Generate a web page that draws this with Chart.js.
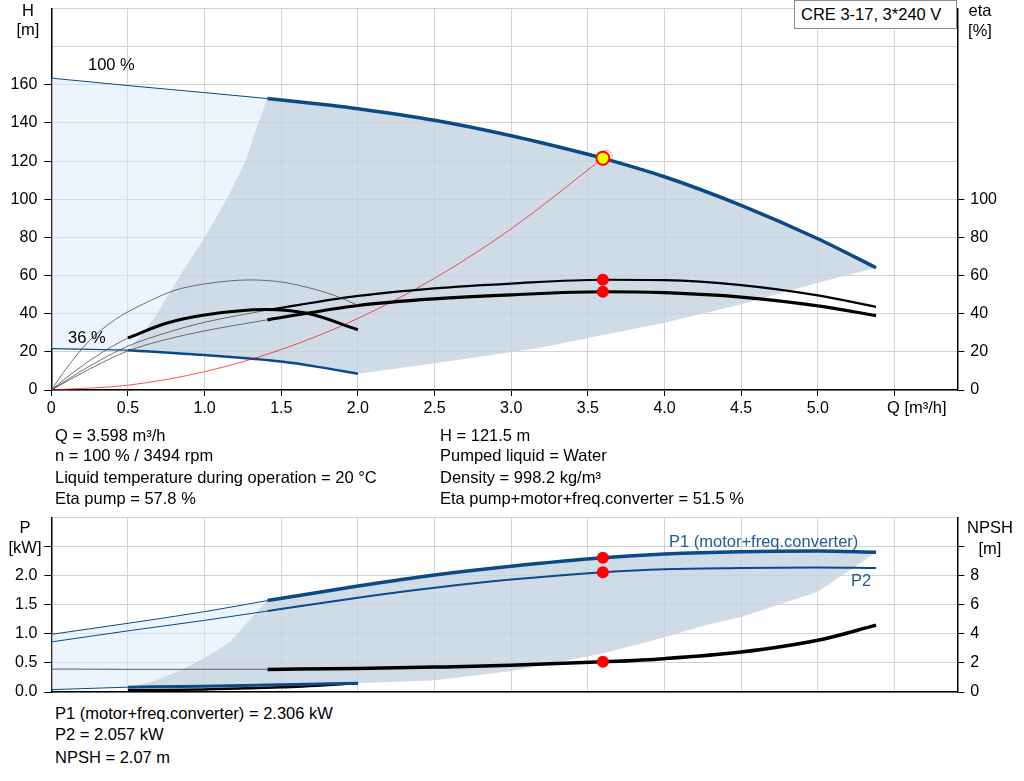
<!DOCTYPE html>
<html>
<head>
<meta charset="utf-8">
<title>CRE 3-17 pump curve</title>
<script src="https://cdn.jsdelivr.net/npm/chart.js@4.4.1/dist/chart.umd.min.js"></script>
<style>
  html, body { margin: 0; padding: 0; background: #fff; }
  body { position: relative; width: 1024px; height: 781px; overflow: hidden;
         font-family: 'Liberation Sans', Arial, sans-serif; font-size: 16.5px; color: #000; }
  canvas { position: absolute; left: 0; }
  #topChart { top: 0; }
  #botChart { top: 500px; }
  .t { position: absolute; white-space: nowrap; line-height: 18px; }
  .c { width: 60px; text-align: center; }
  .blue { color: #1d5c98; }
  #legendBox { position: absolute; left: 794px; top: 0; width: 163px; height: 29px; box-sizing: border-box;
               border: 1px solid #8c8c8c; background: #fff; padding-left: 6px; line-height: 27px; }
</style>
</head>
<body>
<canvas id="topChart" width="1024" height="430"></canvas>
<canvas id="botChart" width="1024" height="200"></canvas>

<div id="legendBox">CRE 3-17, 3*240 V</div>

<div class="t c" style="left:-2px;top:1px">H</div>
<div class="t c" style="left:-2px;top:20px">[m]</div>
<div class="t c" style="left:950px;top:1px">eta</div>
<div class="t c" style="left:950px;top:21px">[%]</div>
<div class="t" style="left:887px;top:398px">Q [m³/h]</div>
<div class="t" style="left:88px;top:55px">100 %</div>
<div class="t" style="left:68px;top:328px">36 %</div>

<div class="t" style="left:55px;top:426px">Q = 3.598 m³/h</div>
<div class="t" style="left:55px;top:446px">n = 100 % / 3494 rpm</div>
<div class="t" style="left:55px;top:467.5px">Liquid temperature during operation = 20 °C</div>
<div class="t" style="left:55px;top:489px">Eta pump = 57.8 %</div>
<div class="t" style="left:440px;top:426px">H = 121.5 m</div>
<div class="t" style="left:440px;top:446px">Pumped liquid = Water</div>
<div class="t" style="left:440px;top:467.5px">Density = 998.2 kg/m³</div>
<div class="t" style="left:440px;top:489px">Eta pump+motor+freq.converter = 51.5 %</div>

<div class="t c" style="left:-5px;top:518px">P</div>
<div class="t c" style="left:-5px;top:538px">[kW]</div>
<div class="t c" style="left:960px;top:518px">NPSH</div>
<div class="t c" style="left:960px;top:539px">[m]</div>
<div class="t blue" style="left:669px;top:532px">P1 (motor+freq.converter)</div>
<div class="t blue" style="left:851px;top:571px">P2</div>

<div class="t" style="left:55px;top:703.5px">P1 (motor+freq.converter) = 2.306 kW</div>
<div class="t" style="left:55px;top:725px">P2 = 2.057 kW</div>
<div class="t" style="left:55px;top:747.5px">NPSH = 2.07 m</div>

<script>
// ---- axes ----
const qMax = 5.91;
const qTicks = [0, 0.5, 1, 1.5, 2, 2.5, 3, 3.5, 4, 4.5, 5, 5.5];
const qTickLabels = ['0', '0.5', '1.0', '1.5', '2.0', '2.5', '3.0', '3.5', '4.0', '4.5', '5.0', ''];
const hTicks = [0, 20, 40, 60, 80, 100, 120, 140, 160, 180, 200];
const hTickLabels = ['0', '20', '40', '60', '80', '100', '120', '140', '160', '', ''];
const etaTicks = [0, 20, 40, 60, 80, 100];
const pTicks = [0, 0.5, 1, 1.5, 2, 2.5, 3];
const pTickLabels = ['0.0', '0.5', '1.0', '1.5', '2.0', '', ''];
const npshTicks = [0, 2, 4, 6, 8, 10, 12];
const npshTickLabels = ['0', '2', '4', '6', '8', '', ''];

// ---- duty point ----
const dutyQ = 3.598;
const dutyH = 121.5;
const dutyEtaPump = 57.8;
const dutyEtaTot = 51.5;
const dutyP1 = 2.306;
const dutyP2 = 2.057;
const dutyNpsh = 2.07;

// ---- head curves (m) ----
const qH100 = [0, 0.5, 1.0, 1.41, 1.82, 2.0, 2.5, 3.0, 3.5, 3.598, 4.0, 4.5, 5.0, 5.38];
const hH100 = [163.5, 159.6, 155.9, 152.8, 149.3, 147.5, 141.4, 133.3, 123.6, 121.5, 111.8, 96.8, 79.3, 64.1];
const qH36 = [0, 0.5, 1.0, 1.5, 1.75, 2.0];
const hH36 = [21.7, 20.9, 18.3, 14.9, 12.0, 8.5];
const sysQ = [0, 0.5, 1.0, 1.5, 2.0, 2.5, 3.0, 3.598];
const sysH = [0, 2.5, 9.6, 21.2, 37.5, 58.6, 84.5, 121.5];

// operating range edges (m)
const qRangeLeft = [0.5, 0.6, 0.69, 0.84, 1.0, 1.144, 1.268, 1.35];
const hRangeLeft = [20.9, 30, 40, 60, 80, 100, 120, 140];
const qRangeLow = [2.5, 3.19, 3.5, 4.0, 4.5, 5.0, 5.38];
const hRangeLow = [14.0, 22.2, 27.2, 35.2, 45.0, 56.2, 64.1];

// ---- efficiency curves (%) ----
const qEta = [0, 0.25, 0.5, 0.75, 1.0, 1.41, 2.0, 2.5, 3.0, 3.598, 4.0, 4.5, 5.0, 5.38];
const etaPump100 = [0, 12.5, 23, 30, 35.5, 41.9, 49.3, 53.3, 55.8, 57.8, 57.6, 55.0, 49.6, 43.6];
const etaTot100 = [0, 11, 20.5, 26.5, 31, 36.8, 44.3, 47.8, 49.9, 51.5, 51.0, 48.7, 44.1, 39.0];
const qEtaPump36 = [0, 0.1, 0.25, 0.4, 0.5, 0.65, 0.8, 1.0, 1.3, 1.5, 1.67, 1.85, 2.0];
const etaPump36 = [0, 11.5, 26, 36, 41, 47, 52.1, 55.6, 57.7, 56.6, 53.8, 49.5, 44.4];
const qEtaTot36 = [0, 0.1, 0.25, 0.4, 0.5, 0.75, 1.0, 1.4, 1.67, 2.0];
const etaTot36 = [0, 6.5, 15.4, 23, 27.3, 35.0, 39.3, 42.2, 40.2, 31.6];

// ---- power (kW) and NPSH (m) ----
const qP = [0, 0.5, 1.0, 1.41, 2.0, 2.5, 3.0, 3.598, 4.0, 4.5, 5.0, 5.38];
const p1 = [0.99, 1.18, 1.38, 1.57, 1.82, 2.01, 2.16, 2.306, 2.37, 2.41, 2.42, 2.40];
const p2 = [0.86, 1.05, 1.23, 1.39, 1.62, 1.79, 1.93, 2.057, 2.11, 2.13, 2.14, 2.13];
const npsh = [1.57, 1.56, 1.55, 1.55, 1.62, 1.71, 1.83, 2.07, 2.29, 2.74, 3.55, 4.59];
const qP36 = [0, 0.5, 1.0, 1.5, 2.0];
const p1s36 = [0.04, 0.083, 0.10, 0.125, 0.15];
const qP2s36 = [0.5, 1.0, 1.5, 2.0];
const p2s36 = [0.03, 0.045, 0.08, 0.15];
const qPRangeLeft = [0.5, 0.67, 0.84, 1.01, 1.166, 1.275, 1.35];
const pRangeLeft = [0.083, 0.19, 0.37, 0.60, 0.86, 1.18, 1.40];
const qPRangeLow = [2.5, 3.0, 3.598, 4.0, 4.27, 4.5, 5.0, 5.38];
const pRangeLow = [0.20, 0.36, 0.66, 0.94, 1.15, 1.29, 1.72, 2.40];

// ---- style ----
const blue = '#0b4a87';
const thinGrey = '#4d4d4d';
const red = '#ff0000';
const gridColor = '#d3d3d3';
const lightFill = 'rgba(218,234,251,0.5)';
const darkFill = 'rgba(188,202,215,0.6)';

Chart.defaults.font.family = "'Liberation Sans', Arial, sans-serif";
Chart.defaults.font.size = 16;
Chart.defaults.color = '#000';

function zip(qs, vs, from = 0, to = qs.length - 1) {
  const out = [];
  for (let i = from; i <= to; i++) out.push({ x: qs[i], y: vs[i] });
  return out;
}

function curve(data, color, width, axis) {
  return { data, borderColor: color, borderWidth: width, pointRadius: 0, pointHoverRadius: 0,
    cubicInterpolationMode: 'monotone', fill: false, yAxisID: axis };
}

function marker(data, bg, border, r, bw, axis) {
  return { data, showLine: false, pointRadius: r, pointHoverRadius: r, pointBackgroundColor: bg,
    pointBorderColor: border, pointBorderWidth: bw, yAxisID: axis };
}

// invisible outline of a shaded region, straight segments
function edge(data, axis, fillTo, color) {
  return { data, borderColor: 'rgba(0,0,0,0)', borderWidth: 0, pointRadius: 0, pointHoverRadius: 0,
    tension: 0, yAxisID: axis,
    fill: fillTo === undefined ? false : fillTo, backgroundColor: color || 'rgba(0,0,0,0)' };
}

// dark = recommended range, light = whole speed range
function addRegions(sets, darkUp, darkLow, lightUp, lightLow, axis) {
  const i = sets.length;
  sets.push(edge(darkUp, axis, i + 1, darkFill), edge(darkLow, axis),
            edge(lightUp, axis, i + 3, lightFill), edge(lightLow, axis));
}

function fixedTicks(values) {
  return s => { s.ticks = values.map(v => ({ value: v })); };
}

function yFit(w) {
  return s => { s.width = w; s.paddingTop = 0; s.paddingBottom = 0; };
}

function xFit(h) {
  return s => { s.height = h; s.paddingLeft = 0; s.paddingRight = 0; };
}

function tickMarkUpTo(limit) {
  return c => (c.tick && c.tick.value <= limit + 1e-9) ? '#000' : 'rgba(0,0,0,0)';
}

const baseOptions = {
  responsive: false,
  animation: false,
  events: [],
  plugins: { legend: { display: false }, tooltip: { enabled: false } },
};

// ---------- top chart: H and eta ----------
const topSets = [
  marker([{ x: dutyQ, y: dutyH }], '#ffff00', red, 6.5, 2, 'y'),
  marker([{ x: 3.62, y: 122.6 }], 'rgba(0,0,0,0)', 'rgba(255,60,60,0.45)', 6, 1, 'y'),
  marker([{ x: dutyQ, y: dutyEtaPump }, { x: dutyQ, y: dutyEtaTot }], red, red, 6, 0, 'yEta'),
  curve(zip(qEtaPump36, etaPump36), thinGrey, 0.8, 'yEta'),
  curve(zip(qEtaTot36, etaTot36, 0, 4), thinGrey, 0.8, 'yEta'),
  curve(zip(qEtaTot36, etaTot36, 4), '#000', 3, 'yEta'),
  curve(zip(qEta, etaPump100, 0, 5), thinGrey, 0.8, 'yEta'),
  curve(zip(qEta, etaPump100, 5), '#000', 2.2, 'yEta'),
  curve(zip(qEta, etaTot100, 0, 5), thinGrey, 0.8, 'yEta'),
  curve(zip(qEta, etaTot100, 5), '#000', 3.2, 'yEta'),
  curve(zip(sysQ, sysH), 'rgba(255,0,0,0.85)', 0.8, 'y'),
  curve(zip(qH36, hH36, 0, 1), blue, 1.3, 'y'),
  curve(zip(qH36, hH36, 1), blue, 2.5, 'y'),
  curve(zip(qH100, hH100, 0, 3), blue, 1, 'y'),
  curve(zip(qH100, hH100, 3), blue, 3.5, 'y'),
];
addRegions(topSets,
  zip(qRangeLeft, hRangeLeft).concat(zip(qH100, hH100, 3)),
  zip(qH36, hH36, 1).concat(zip(qRangeLow, hRangeLow)),
  zip(qH100, hH100),
  zip(qH36, hH36).concat(zip(qRangeLow, hRangeLow)),
  'y');

new Chart(document.getElementById('topChart'), {
  type: 'line',
  data: { datasets: topSets },
  options: Object.assign({}, baseOptions, {
    layout: { padding: { top: 0, left: 0, right: 0, bottom: 0 } },
    scales: {
      x: {
        type: 'linear', min: 0, max: qMax,
        afterBuildTicks: fixedTicks(qTicks),
        afterFit: xFit(40),
        ticks: { padding: 3, maxRotation: 0, autoSkip: false, callback: (v, i) => qTickLabels[i] },
        grid: { color: gridColor, lineWidth: 1, tickLength: 6, tickColor: '#000' },
        border: { color: '#000', width: 1.5 },
      },
      y: {
        type: 'linear', position: 'left', min: 0, max: 200,
        afterBuildTicks: fixedTicks(hTicks),
        afterFit: yFit(51.3),
        ticks: { padding: 7, autoSkip: false, callback: (v, i) => hTickLabels[i] },
        grid: { color: gridColor, lineWidth: 1, tickLength: 7, tickColor: tickMarkUpTo(160) },
        border: { color: '#000', width: 1.5 },
      },
      yEta: {
        type: 'linear', position: 'right', min: 0, max: 200,
        afterBuildTicks: fixedTicks(etaTicks),
        afterFit: yFit(66.7),
        ticks: { padding: 6, autoSkip: false },
        grid: { drawOnChartArea: false, tickLength: 7, tickColor: '#000' },
        border: { color: '#000', width: 1.5 },
      },
    },
  }),
});

// ---------- bottom chart: P and NPSH ----------
const botSets = [
  marker([{ x: dutyQ, y: dutyP1 }, { x: dutyQ, y: dutyP2 }], red, red, 6, 0, 'y'),
  marker([{ x: dutyQ, y: dutyNpsh }], red, red, 6, 0, 'yN'),
  curve(zip(qP, p1, 0, 3), blue, 1, 'y'),
  curve(zip(qP, p1, 3), blue, 3.5, 'y'),
  curve(zip(qP, p2, 0, 3), blue, 1, 'y'),
  curve(zip(qP, p2, 3), blue, 2, 'y'),
  curve(zip(qP, npsh, 0, 3), '#7a7a7a', 1.2, 'yN'),
  curve(zip(qP, npsh, 3), '#000', 3.5, 'yN'),
  curve(zip(qP36, p1s36, 0, 1), blue, 1, 'y'),
  curve(zip(qP36, p1s36, 1), blue, 3, 'y'),
  curve(zip(qP2s36, p2s36), '#000', 2.5, 'y'),
];
addRegions(botSets,
  zip(qPRangeLeft, pRangeLeft).concat(zip(qP, p1, 3)),
  zip(qP36, p1s36, 1).concat(zip(qPRangeLow, pRangeLow)),
  zip(qP, p1),
  zip(qP36, p1s36).concat(zip(qPRangeLow, pRangeLow)),
  'y');

new Chart(document.getElementById('botChart'), {
  type: 'line',
  data: { datasets: botSets },
  options: Object.assign({}, baseOptions, {
    layout: { padding: { top: 17.3, left: 0, right: 0, bottom: 0 } },
    scales: {
      x: {
        type: 'linear', min: 0, max: qMax,
        afterBuildTicks: fixedTicks(qTicks),
        afterFit: xFit(8),
        ticks: { display: false },
        grid: { color: gridColor, lineWidth: 1, drawTicks: false },
        border: { color: '#000', width: 1.5 },
      },
      y: {
        type: 'linear', position: 'left', min: 0, max: 3,
        afterBuildTicks: fixedTicks(pTicks),
        afterFit: yFit(51.3),
        ticks: { padding: 7, autoSkip: false, callback: (v, i) => pTickLabels[i] },
        grid: { color: gridColor, lineWidth: 1, tickLength: 7, tickColor: tickMarkUpTo(2.5) },
        border: { color: '#000', width: 1.5 },
      },
      yN: {
        type: 'linear', position: 'right', min: 0, max: 12,
        afterBuildTicks: fixedTicks(npshTicks),
        afterFit: yFit(66.7),
        ticks: { padding: 6, autoSkip: false, callback: (v, i) => npshTickLabels[i] },
        grid: { drawOnChartArea: false, tickLength: 7, tickColor: tickMarkUpTo(10) },
        border: { color: '#000', width: 1.5 },
      },
    },
  }),
});
</script>
</body>
</html>
